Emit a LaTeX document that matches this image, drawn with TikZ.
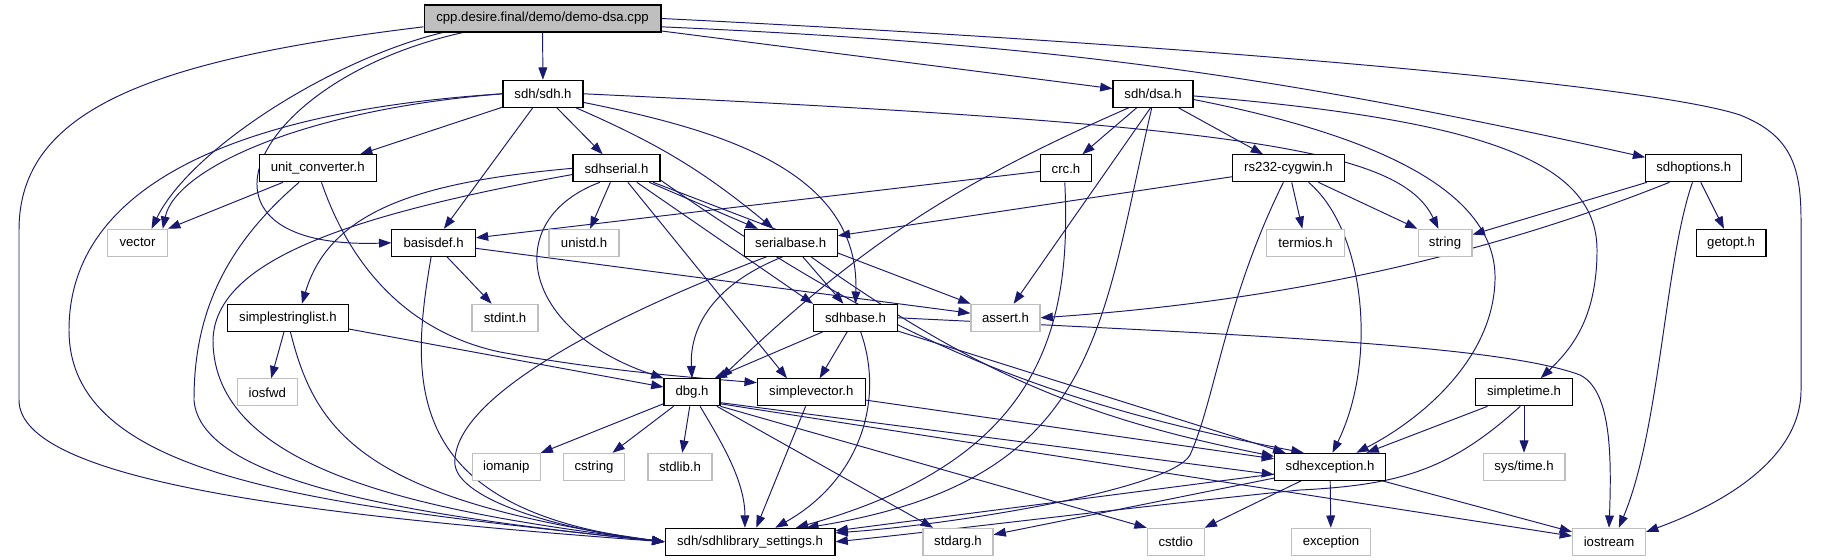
\documentclass[tikz,border=0pt]{standalone}
\usepackage{fontspec}
\setmainfont{Liberation Sans}
\usetikzlibrary{arrows.meta}
\definecolor{edgeblue}{HTML}{191970}
\definecolor{sysgray}{HTML}{BFBFBF}
\pgfdeclarelayer{back}
\pgfsetlayers{back,main}

\begin{document}
\begin{tikzpicture}[
        x=0.02cm, y=-0.02cm,
        hdr/.style={draw, line width=0.6pt, fill=white, inner sep=0pt, minimum height=0.54cm, font=\fontsize{7.5}{9}\selectfont},
        sys/.style={hdr, draw=sysgray},
        top/.style={hdr, fill=sysgray},
        inc/.style={draw=edgeblue, line width=0.55pt, -{Triangle[length=7pt,width=5pt]}},
    ]
    \useasboundingbox (0,0) rectangle (1824,560);

    \node[top, minimum width=4.74cm] (root) at (542.5,18.5) {cpp.desire.final/demo/demo-dsa.cpp};
    \node[hdr, minimum width=1.60cm] (sdh) at (543,93.8) {sdh/sdh.h};
    \node[hdr, minimum width=1.60cm] (dsa) at (1153,93.8) {sdh/dsa.h};
    \node[hdr, minimum width=2.34cm] (unitconv) at (317.7,168.3) {unit\_converter.h};
    \node[hdr, minimum width=1.74cm] (sdhserial) at (616.5,168.3) {sdhserial.h};
    \node[hdr, minimum width=1.02cm] (crc) at (1066,168.3) {crc.h};
    \node[hdr, minimum width=2.23cm] (rs232) at (1288.5,168.3) {rs232-cygwin.h};
    \node[hdr, minimum width=1.92cm] (sdhoptions) at (1693.7,168.3) {sdhoptions.h};
    \node[sys, minimum width=1.20cm] (vector) at (137.5,242.8) {vector};
    \node[hdr, minimum width=1.67cm] (basisdef) at (433.6,242.8) {basisdef.h};
    \node[sys, minimum width=1.40cm] (unistd) at (584,242.8) {unistd.h};
    \node[hdr, minimum width=1.86cm] (serialbase) at (790.7,242.8) {serialbase.h};
    \node[sys, minimum width=1.55cm] (termios) at (1305.5,242.8) {termios.h};
    \node[sys, minimum width=1.08cm] (string) at (1445,242.8) {string};
    \node[hdr, minimum width=1.40cm] (getopt) at (1731,242.8) {getopt.h};
    \node[hdr, minimum width=2.42cm] (strlist) at (287.9,317.8) {simplestringlist.h};
    \node[sys, minimum width=1.32cm] (stdint) at (505,317.8) {stdint.h};
    \node[hdr, minimum width=1.68cm] (sdhbase) at (855.5,317.8) {sdhbase.h};
    \node[sys, minimum width=1.38cm] (assert) at (1005.5,317.8) {assert.h};
    \node[sys, minimum width=1.20cm] (iosfwd) at (267.3,392.3) {iosfwd};
    \node[hdr, minimum width=1.12cm] (dbg) at (692,392.3) {dbg.h};
    \node[hdr, minimum width=2.16cm] (svector) at (811.3,392.3) {simplevector.h};
    \node[hdr, minimum width=1.94cm] (stime) at (1524,392.3) {simpletime.h};
    \node[sys, minimum width=1.35cm] (iomanip) at (506.3,466.8) {iomanip};
    \node[sys, minimum width=1.22cm] (cstring) at (594,466.8) {cstring};
    \node[sys, minimum width=1.28cm] (stdlib) at (680,466.8) {stdlib.h};
    \node[hdr, minimum width=2.22cm] (sdhexc) at (1330,466.8) {sdhexception.h};
    \node[sys, minimum width=1.64cm] (systime) at (1524,466.8) {sys/time.h};
    \node[hdr, minimum width=3.40cm] (settings) at (750,541.8) {sdh/sdhlibrary\_settings.h};
    \node[sys, minimum width=1.40cm] (stdarg) at (958,541.8) {stdarg.h};
    \node[sys, minimum width=1.14cm] (cstdio) at (1175.7,541.8) {cstdio};
    \node[sys, minimum width=1.57cm] (exception) at (1331,541.8) {exception};
    \node[sys, minimum width=1.46cm] (iostream) at (1609,541.8) {iostream};

    \begin{pgfonlayer}{back}
    \draw[inc] (root) -- (sdh);
    \draw[inc] (root.-6) -- (dsa);
    \draw[inc] (root.-4) to[bend left=5] (sdhoptions);
    \draw[inc] (root.east) .. controls (1200,45) and (1650,85) .. (1740,115) .. controls (1790,135) and (1801,165) .. (1801,220) -- (1801,390) .. controls (1801,460) and (1720,505) .. (iostream.15);
    \draw[inc] (root.184) .. controls (150,60) and (19,110) .. (19,230) -- (19,400) .. controls (19,480) and (300,515) .. (settings.west);
    \draw[inc] (root.188) .. controls (330,60) and (190,150) .. (vector.45);
    \draw[inc] (root.190) .. controls (250,80) and (170,250) .. (basisdef.west);

    \draw[inc] (sdh) -- (unitconv);
    \draw[inc] (sdh) -- (basisdef);
    \draw[inc] (sdh) -- (sdhserial);
    \draw[inc] (sdh) to[bend left=8] (serialbase);
    \draw[inc] (sdh.-12) .. controls (720,130) and (860,170) .. (sdhbase.north);
    \draw[inc] (sdh.west) .. controls (300,110) and (175,170) .. (vector.29);
    \draw[inc] (sdh.west) .. controls (250,110) and (69,180) .. (69,330) .. controls (69,480) and (320,505) .. (settings.west);
    \draw[inc] (sdh.east) .. controls (1250,125) and (1400,150) .. (string.115);

    \draw[inc] (dsa) -- (crc);
    \draw[inc] (dsa) -- (rs232);
    \draw[inc] (dsa.-150) to[bend right=10] (dbg.north east);
    \draw[inc] (dsa.-100) -- (assert.60);
    \draw[inc] (dsa.-95) .. controls (1100,330) and (1100,480) .. (settings.14);
    \draw[inc] (dsa.-8) .. controls (1400,140) and (1497,200) .. (1495,280) .. controls (1493,360) and (1420,420) .. (sdhexc.28);
    \draw[inc] (dsa.-3) .. controls (1480,120) and (1597,160) .. (1597,250) .. controls (1597,320) and (1570,350) .. (stime.40);

    \draw[inc] (unitconv) -- (vector.north east);
    \draw[inc] (unitconv.-143) .. controls (220,250) and (194,320) .. (194,400) .. controls (200,480) and (400,515) .. (settings.west);
    \draw[inc] (unitconv.-75) .. controls (355,280) and (420,335) .. (500,352) .. controls (610,372) and (700,378) .. (svector.170);

    \draw[inc] (sdhserial) -- (unistd);
    \draw[inc] (sdhserial) -- (serialbase);
    \draw[inc] (sdhserial) -- (sdhbase.north west);
    \draw[inc] (sdhserial) -- (assert.north west);
    \draw[inc] (sdhserial.-15) to[bend right=12] (sdhexc.152);
    \draw[inc] (sdhserial.-140) .. controls (500,220) and (520,330) .. (dbg.north west);
    \draw[inc] (sdhserial) -- (svector.150);
    \draw[inc] (sdhserial.west) .. controls (420,182) and (330,210) .. (strlist.45);
    \draw[inc] (sdhserial.188) .. controls (350,215) and (215,260) .. (213,340) .. controls (213,470) and (420,512) .. (settings.west);

    \draw[inc] (crc) -- (basisdef);
    \draw[inc] (crc.-95) .. controls (1072,330) and (1040,460) .. (settings.17);

    \draw[inc] (rs232) -- (serialbase);
    \draw[inc] (rs232) -- (termios);
    \draw[inc] (rs232) -- (string.north west);
    \draw[inc] (rs232.-35) .. controls (1365,230) and (1378,360) .. (sdhexc.80);
    \draw[inc] (rs232.-110) .. controls (1225,300) and (1215,400) .. (1190,455) .. controls (1170,490) and (950,525) .. (settings.6);

    \draw[inc] (sdhoptions) -- (string);
    \draw[inc] (sdhoptions.-150) .. controls (1500,250) and (1300,300) .. (assert.east);
    \draw[inc] (sdhoptions) -- (getopt);
    \draw[inc] (sdhoptions.-95) .. controls (1665,260) and (1660,430) .. (iostream.55);

    \draw[inc] (basisdef) -- (stdint);
    \draw[inc] (basisdef) -- (assert);
    \draw[inc] (basisdef.-100) .. controls (410,380) and (400,510) .. (settings.west);

    \draw[inc] (serialbase) -- (sdhbase);
    \draw[inc] (serialbase.-120) .. controls (700,290) and (690,340) .. (dbg.north);
    \draw[inc] (serialbase) to[bend right=12] (sdhexc);
    \draw[inc] (serialbase.-150) .. controls (600,320) and (450,400) .. (455,465) .. controls (460,500) and (560,530) .. (settings.west);

    \draw[inc] (strlist) -- (iosfwd);
    \draw[inc] (strlist) -- (dbg);
    \draw[inc] (strlist.-80) .. controls (315,430) and (360,500) .. (settings.west);

    \draw[inc] (sdhbase) -- (dbg.32);
    \draw[inc] (sdhbase) -- (svector);
    \draw[inc] (sdhbase) -- (sdhexc);
    \draw[inc] (sdhbase.east) .. controls (1250,335) and (1500,345) .. (1580,375) .. controls (1610,390) and (1612,450) .. (iostream.north);
    \draw[inc] (sdhbase.-70) .. controls (885,400) and (860,480) .. (settings.29);

    \draw[inc] (dbg) -- (iomanip);
    \draw[inc] (dbg) -- (cstring);
    \draw[inc] (dbg) -- (stdlib);
    \draw[inc] (dbg.-60) .. controls (720,440) and (745,480) .. (settings.110);
    \draw[inc] (dbg) -- (stdarg);
    \draw[inc] (dbg.south east) -- (cstdio.north west);
    \draw[inc] (dbg.-20) -- (sdhexc.188);
    \draw[inc] (dbg.-22) -- (iostream);

    \draw[inc] (svector) -- (settings.66);
    \draw[inc] (svector) -- (sdhexc);

    \draw[inc] (stime) -- (sdhexc);
    \draw[inc] (stime) -- (systime);
    \draw[inc] (stime.-105) .. controls (1450,470) and (1400,485) .. (1300,490) .. controls (1150,505) and (950,530) .. (settings.east);

    \draw[inc] (sdhexc) -- (exception);
    \draw[inc] (sdhexc) -- (iostream);
    \draw[inc] (sdhexc) -- (cstdio);
    \draw[inc] (sdhexc) -- (stdarg);
    \draw[inc] (sdhexc) -- (settings);
    \end{pgfonlayer}
\end{tikzpicture}
\end{document}
